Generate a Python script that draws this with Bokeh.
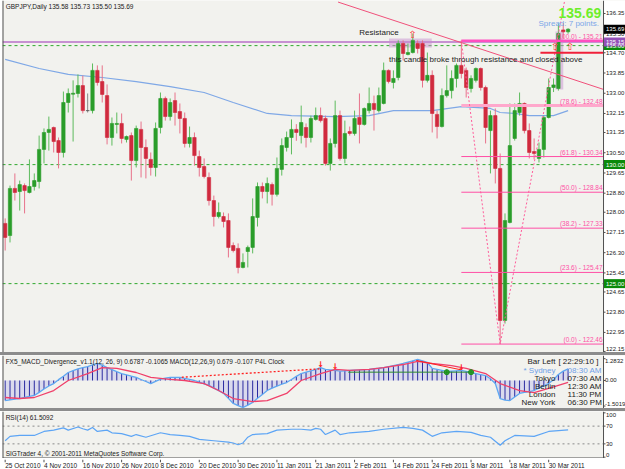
from bokeh.plotting import figure
from bokeh.models import Range1d, Label, Div, ColumnDataSource
from bokeh.layouts import column
from bokeh.embed import file_html
from bokeh.resources import INLINE
from bokeh.core.properties import value

# ---------------- data ----------------
opens = [127.53, 127.02, 129.00, 128.87, 129.12, 128.83, 129.08, 129.29, 130.64, 131.35,
         131.56, 131.01, 130.51, 132.61, 132.96, 132.99, 133.32, 132.27, 132.27, 133.96,
         133.49, 132.90, 131.14, 131.69, 131.73, 131.06, 131.22, 130.17, 131.48, 130.72,
         130.22, 129.88, 131.56, 132.78, 132.02, 132.69, 132.23, 131.94, 130.89, 131.14,
         130.34, 129.92, 129.46, 128.49, 127.82, 127.82, 127.65, 126.60, 126.48, 125.68,
         126.35, 126.52, 127.78, 129.08, 128.87, 129.16, 128.75, 129.80, 130.72, 131.14,
         131.48, 131.22, 131.56, 131.14, 131.90, 132.06, 131.94, 130.05, 130.89, 132.06,
         130.26, 131.39, 131.31, 131.98, 131.69, 132.27, 132.57, 132.27, 132.57, 133.96,
         133.45, 133.66, 135.09, 134.63, 134.71, 135.09, 135.09, 133.54, 133.75, 132.11,
         131.60, 132.90, 133.11, 133.62, 134.17, 133.96, 133.20, 133.54, 134.04, 133.24,
         131.43, 132.06, 129.84, 123.45, 127.57, 131.10, 132.19, 132.57, 131.43, 130.55,
         130.26, 130.64, 131.98, 133.24, 133.20, 135.66, 135.58]
highs = [127.74, 129.12, 129.63, 129.33, 129.21, 130.22, 129.63, 131.22, 131.52, 132.02,
         131.60, 131.14, 133.07, 133.20, 133.54, 133.79, 133.74, 132.99, 134.25, 134.17,
         134.17, 133.37, 131.98, 132.19, 132.15, 131.22, 131.35, 131.64, 131.81, 131.06,
         130.51, 131.77, 133.03, 132.86, 132.78, 133.03, 132.57, 132.19, 131.60, 131.35,
         130.59, 130.26, 129.67, 128.70, 128.41, 127.99, 127.95, 126.73, 126.69, 126.27,
         126.60, 128.58, 129.25, 129.25, 129.46, 129.25, 130.30, 131.10, 131.39, 131.90,
         131.70, 132.48, 131.73, 132.06, 132.40, 132.40, 132.06, 131.10, 132.69, 132.27,
         131.85, 131.60, 132.27, 132.99, 132.40, 133.24, 132.90, 133.24, 134.29, 134.00,
         133.96, 135.22, 135.22, 135.09, 135.51, 135.22, 135.22, 134.71, 133.96, 132.27,
         133.20, 134.17, 133.96, 134.25, 135.21, 134.08, 133.75, 134.08, 134.08, 133.32,
         132.27, 132.36, 130.47, 127.95, 132.57, 132.57, 133.03, 132.61, 131.73, 131.10,
         130.93, 132.06, 133.62, 133.62, 135.93, 135.95, 135.73]
lows = [126.39, 126.73, 128.49, 128.07, 127.95, 128.79, 128.91, 129.00, 130.05, 130.59,
        130.51, 129.84, 130.30, 132.19, 130.97, 132.82, 132.15, 132.19, 132.15, 133.32,
        132.61, 130.85, 130.80, 131.31, 130.89, 130.93, 129.33, 129.88, 129.46, 129.42,
        129.54, 129.50, 131.31, 131.85, 131.85, 131.64, 131.31, 130.72, 130.72, 129.96,
        129.50, 129.42, 128.28, 127.40, 127.74, 127.36, 126.10, 126.31, 125.43, 125.64,
        125.68, 126.27, 127.40, 128.58, 128.37, 128.28, 128.66, 129.54, 130.55, 130.43,
        131.00, 130.89, 130.72, 130.93, 131.85, 131.77, 129.96, 129.75, 130.72, 130.17,
        130.05, 131.22, 131.22, 130.89, 131.64, 132.15, 131.43, 132.19, 132.53, 133.41,
        133.20, 133.54, 134.38, 134.59, 134.67, 134.67, 133.24, 133.45, 131.35, 131.10,
        131.56, 132.82, 132.78, 133.24, 133.62, 132.82, 133.03, 133.45, 133.11, 130.89,
        129.63, 129.21, 122.46, 123.32, 127.53, 131.01, 132.06, 131.31, 130.26, 130.22,
        130.09, 130.30, 131.94, 133.05, 133.11, 135.30, 135.50]
closes = [126.94, 129.00, 128.83, 129.16, 128.91, 129.08, 129.33, 130.64, 131.35, 131.48,
          130.97, 130.51, 132.61, 132.99, 133.00, 133.32, 132.27, 132.27, 133.96, 133.45,
          132.95, 131.14, 131.73, 131.73, 131.10, 131.18, 130.17, 131.52, 130.72, 130.26,
          129.88, 131.52, 132.78, 132.02, 132.61, 132.19, 131.94, 130.89, 131.14, 130.38,
          129.88, 129.50, 128.49, 127.82, 127.99, 127.61, 126.52, 126.39, 125.68, 125.89,
          126.52, 127.82, 129.08, 128.87, 129.21, 128.75, 129.84, 130.80, 131.14, 131.48,
          131.35, 131.77, 131.14, 131.94, 132.06, 131.85, 130.05, 130.89, 132.06, 130.26,
          131.31, 131.31, 131.94, 131.69, 132.36, 132.57, 132.32, 132.90, 133.96, 133.49,
          133.62, 135.09, 134.67, 134.71, 135.22, 134.88, 133.54, 133.75, 132.15, 131.60,
          132.90, 133.11, 133.62, 134.17, 133.83, 133.24, 133.62, 134.04, 133.24, 131.56,
          132.06, 129.84, 123.45, 127.65, 130.80, 132.27, 132.57, 131.43, 130.51, 130.47,
          130.64, 131.98, 133.24, 133.35, 135.51, 135.58, 135.69]

ma_bars = [0, 7, 13, 20, 27, 34, 41, 47, 54, 59, 68, 75, 80, 88, 94, 100, 102, 105, 108, 113, 116]
ma_vals = [134.42, 134.04, 133.79, 133.66, 133.49, 133.28, 133.03, 132.61, 132.15, 132.06,
           132.02, 132.06, 132.27, 132.27, 132.44, 132.36, 132.19, 132.15, 132.06, 132.06, 132.27]

macd = [-1.18, -1.14, -1.10, -1.06, -1.00, -0.94, -0.88, -0.70, -0.50, -0.32,
        -0.18, 0.05, 0.25, 0.47, 0.58, 0.68, 0.76, 0.82, 0.92, 1.00,
        0.90, 0.76, 0.64, 0.52, 0.41, 0.33, 0.25, 0.18, 0.06, -0.06,
        -0.18, -0.05, 0.08, 0.14, 0.18, 0.18, 0.18, 0.12, 0.06, 0.00,
        -0.10, -0.20, -0.29, -0.45, -0.60, -0.76, -1.05, -1.35, -1.48, -1.59,
        -1.45, -1.29, -1.05, -0.82, -0.59, -0.45, -0.33, -0.22, -0.12, 0.06,
        0.24, 0.41, 0.49, 0.57, 0.65, 0.76, 0.65, 0.62, 0.59, 0.55,
        0.57, 0.59, 0.61, 0.62, 0.64, 0.65, 0.69, 0.72, 0.76, 0.82,
        0.88, 0.94, 1.00, 1.08, 1.16, 1.24, 1.15, 1.06, 0.71, 0.65,
        0.59, 0.53, 0.55, 0.57, 0.59, 0.53, 0.47, 0.41, 0.35, 0.29,
        0.10, -0.18, -1.06, -1.15, -1.18, -0.97, -0.76, -0.70, -0.65, -0.59,
        -0.45, -0.32, -0.18, 0.05, 0.35, 0.55, 0.68]
signal_bars = [0, 3, 6, 10, 13, 17, 20, 23, 27, 30, 34, 37, 41, 44, 47, 51, 54, 58, 61, 65,
               68, 71, 75, 78, 82, 85, 88, 92, 95, 99, 102, 106, 109, 112, 116]
signal_vals = [-1.0, -1.06, -1.0, -0.59, 0.0, 0.41, 0.76, 0.71, 0.47, 0.18, 0.06, 0.0, -0.18,
               -0.59, -1.06, -1.24, -1.18, -0.76, 0.0, 0.40, 0.65, 0.59, 0.65, 0.76, 0.94,
               1.12, 1.0, 0.88, 0.71, 0.41, -0.18, -0.59, -0.71, -0.47, -0.11]

rsi_bars = [0, 1, 3, 6, 8, 10, 12, 13, 15, 16, 17, 18, 19, 21, 22, 24, 26, 27, 29, 32, 34, 36,
            38, 40, 43, 46, 47, 48, 49, 50, 51, 54, 56, 59, 61, 63, 64, 65, 66, 68, 69, 71,
            75, 78, 82, 84, 86, 88, 90, 93, 96, 98, 100, 102, 103, 105, 109, 112, 116]
rsi_vals = [37, 47, 49, 49, 58, 61, 66, 61, 68, 64, 61, 67, 58, 61, 55, 53, 47, 51, 45, 55,
            51, 49, 47, 40, 37, 34, 32, 28, 32, 45, 51, 53, 61, 63, 63, 61, 65, 63, 51, 61,
            51, 55, 58, 63, 67, 65, 61, 47, 55, 58, 56, 49, 45, 27, 37, 49, 47, 58, 61.5]

price_ticks = [136.35, 135.50, 134.70, 133.85, 133.00, 132.15, 131.35, 130.50, 129.65, 128.80,
               128.00, 127.15, 126.30, 125.45, 124.65, 123.80, 122.95, 122.15]
macd_ticks = [1.2832, 0.0, -1.5019]
macd_tick_labels = ["1.2832", "0.00", "-1.5019"]
rsi_ticks = [100, 70, 30, 0]
date_ticks = [0, 8, 16, 24, 32, 40, 48, 56, 64, 72, 80, 88, 96, 104, 112]
date_labels = ["25 Oct 2010", "4 Nov 2010", "16 Nov 2010", "26 Nov 2010", "8 Dec 2010",
               "20 Dec 2010", "30 Dec 2010", "11 Jan 2011", "21 Jan 2011", "2 Feb 2011",
               "14 Feb 2011", "24 Feb 2011", "8 Mar 2011", "18 Mar 2011", "30 Mar 2011"]

fib_names = ["(0.0) - 122.46", "(23.6) - 125.47", "(38.2) - 127.33", "(50.0) - 128.84",
             "(61.8) - 130.34", "(78.6) - 132.48", "(100.0) - 135.21"]
fib_prices = [122.46, 125.47, 127.33, 128.84, 130.34, 132.48, 135.21]
fib_start = 94
round_levels = [135.00, 130.00, 125.00]
purple_level = 135.15
red_level = 134.70
trend_bars = [68.6, 123.3]
trend_vals = [136.83, 133.16]
marker_labels = ["135.00", "130.00", "125.00", "135.15", "135.69"]
marker_prices = [135.00, 130.00, 125.00, 135.15, 135.69]
marker_colors = ["#0A8A0A", "#0A8A0A", "#0A8A0A", "#9450B8", "#000000"]

# ---------------- styling ----------------
BG = "#F2F2EE"
FONT = "Liberation Sans"
SCALE_FONT = "6px"
FW = 623                    # frame covers chart + price-scale strip
CH_END = 123.3              # right edge of the chart area (in bar units)
XR = Range1d(-0.55, 127.83)
PX = (XR.end - XR.start) / FW   # bar units per pixel


def base(h, yr):
    f = figure(frame_width=FW, frame_height=h, x_range=XR, y_range=yr,
               toolbar_location=None, output_backend="svg",
               x_axis_location=None, y_axis_location=None,
               min_border_left=2, min_border_right=0, min_border_top=0, min_border_bottom=0,
               background_fill_color=BG, border_fill_color="white",
               outline_line_color=None)
    f.grid.visible = False
    return f


def price_scale(f, yr, ticks, labels, baselines, gap=2.5):
    # white strip of the price scale, its line, ticks and labels
    f.quad(left=[CH_END], right=[XR.end], bottom=[yr.start], top=[yr.end],
           fill_color="white", line_color=None)
    f.line([XR.start, XR.start], [yr.start, yr.end], line_color="#505050", line_width=2)
    f.line([CH_END, CH_END], [yr.start, yr.end], line_color="#505050", line_width=1)
    f.segment(x0=[CH_END] * len(ticks), y0=ticks, x1=[CH_END + 2 * PX] * len(ticks), y1=ticks,
              line_color="#505050", line_width=1)
    f.text(x=[CH_END + gap * PX] * len(ticks), y=ticks, text=labels, text_align="left",
           text_baseline=baselines, text_font=value(FONT),
           text_font_size=SCALE_FONT, text_color="#202020")


# ---------------- main price panel ----------------
YM = Range1d(122.106, 136.896)
p = base(352, YM)

n = len(opens)
bars = list(range(n))
body_col, wick_col = [], []
for o, c in zip(opens, closes):
    if c > o:
        body_col.append("#2A9D2A"); wick_col.append("#5DBB5D")
    elif c < o:
        body_col.append("#D02A3E"); wick_col.append("#E8728A")
    else:
        body_col.append("#555555"); wick_col.append("#888888")
src = ColumnDataSource(dict(x=bars, h=highs, l=lows,
                            top=[max(a, b) for a, b in zip(opens, closes)],
                            bot=[min(a, b) for a, b in zip(opens, closes)],
                            bc=body_col, wc=wick_col))

for lv in round_levels:
    p.line([XR.start, CH_END], [lv, lv], line_color="#2FA82F", line_dash="3 3", line_width=1)
p.line([XR.start, CH_END], [purple_level, purple_level], line_color="#B870C8", line_width=1.5)

p.quad(left=[79.1, 113.4], right=[87.9, 115.0], bottom=[134.92, 133.16], top=[135.30, 135.59],
       fill_color="#C890D0", fill_alpha=0.5, line_color=None)

p.line(ma_bars, ma_vals, line_color="#7FA8E6", line_width=1.2)

p.segment("x", "h", "x", "l", source=src, line_color="wc", line_width=1)
p.vbar("x", 0.7, "top", "bot", source=src, fill_color="bc", line_color="bc", line_width=0.6)

fw = [1, 1, 1, 1, 1, 3, 2.5]
fc = ["#FF4FA6", "#FF4FA6", "#FF4FA6", "#FF4FA6", "#FF4FA6", "#FFA8CC", "#FF4FC0"]
p.segment(x0=[fib_start] * 7, y0=fib_prices, x1=[CH_END] * 7, y1=fib_prices,
          line_color=fc, line_width=fw)
p.text(x=[CH_END - 0.2] * 7, y=fib_prices, text=fib_names, text_align="right",
       text_baseline="bottom", y_offset=-1, text_font=value(FONT),
       text_font_size="6.5px", text_color="#FF4FA6")
p.line([94, 102, 115.3], [135.21, 122.46, 136.9],
       line_color="#FF5C9A", line_dash="2 2", line_width=1)

p.line(trend_bars, trend_vals, line_color="#F0507A", line_width=1)
p.line([110.3, CH_END], [red_level, red_level], line_color="#F0203A", line_width=2)

p.text(x=[72.96], y=[135.55], text=["Resistance"], text_align="left", text_baseline="middle",
       text_font=value(FONT), text_font_size="8px", text_color="#222222")
p.text(x=[79.1], y=[134.40], text=["this candle broke through resistance and closed above"],
       text_align="left", text_baseline="middle", text_font=value(FONT),
       text_font_size="8px", text_color="#222222")
p.text(x=[83.9, 113.3, 116.4], y=[135.45, 134.96, 134.96], text=["\u21e7"] * 3,
       text_align="center", text_baseline="middle", text_font=value("DejaVu Sans"),
       text_font_size="10px", text_color="#FF3030")
p.text(x=[114.0], y=[136.35], text=["135.69"], text_align="left", text_baseline="middle",
       text_font=value(FONT), text_font_size="14px", text_font_style="bold",
       text_color="#6EEE2A")
p.text(x=[109.9], y=[135.93], text=["Spread: 7 points."], text_align="left",
       text_baseline="middle", text_font=value(FONT), text_font_size="8px",
       text_color="#7BA6E8")
p.add_layout(Label(x=0.1, y=136.64, text="GBPJPY,Daily  135.58 135.73 135.50 135.69",
                   text_font=FONT, text_font_size="6.5px", text_color="#202020",
                   text_baseline="middle"))

price_scale(p, YM, price_ticks, ["%.2f" % t for t in price_ticks],
            ["middle"] * (len(price_ticks) - 1) + ["bottom"])
p.rect(x=[CH_END + 11.5 * PX] * 5, y=marker_prices, width=22, height=9,
       width_units="screen", height_units="screen", fill_color=marker_colors, line_color=None)
p.text(x=[CH_END + 2.5 * PX] * 5, y=marker_prices, text=marker_labels, text_align="left",
       text_baseline="middle", text_font=value(FONT), text_font_size=SCALE_FONT,
       text_color="white")

# ---------------- MACD panel ----------------
YD = Range1d(-1.647, 1.47)
m = base(53, YD)
m.varea(x=bars, y1=[0] * n, y2=macd, fill_color="#C9C9EC", fill_alpha=0.6)
m.segment(x0=bars, y0=[0] * n, x1=bars, y1=macd, line_color="#2B2BA0", line_width=1)
m.line(bars, macd, line_color="#5EA8F2", line_width=1.3)
m.line(signal_bars, signal_vals, line_color="#F0406A", line_width=1.3)
m.line([36.4, 65.2], [0.19, 0.69], line_color="#FF2020", line_dash="2 2", line_width=1.3)
m.line([70.7, 96.5], [0.49, 0.49], line_color="#2E8B2E", line_width=1)
m.line([84.7, 93.9], [1.18, 0.63], line_color="#FF2020", line_width=1)
m.text(x=[65, 68, 94], y=[0.95, 0.80, 0.75], text=["\u2193"] * 3, text_align="center",
       text_baseline="middle", text_font=value("DejaVu Sans"), text_font_size="8px",
       text_color="#FF1010", text_font_style="bold")
m.scatter([91, 96], [0.49, 0.49], marker="circle_cross", size=5, line_color="#1E8C1E",
          fill_color="#33AA33")
m.add_layout(Label(x=0.1, y=1.12,
                   text="FX5_MACD_Divergence_v1.1(12, 26, 9) 0.6787 -0.1065  MACD(12,26,9) 0.679 -0.107  P4L Clock",
                   text_font=FONT, text_font_size="6.5px", text_color="#202020",
                   text_baseline="middle"))
clock_names = ["Bar Left", "* Sydney", "Tokyo", "Berlin", "London", "New York"]
clock_times = ["[ 22:29:10 ]", "08:30  AM", "07:30  AM", "12:30  AM", "11:30  PM", "06:30  PM"]
clock_y = [1.118, 0.588, 0.118, -0.353, -0.824, -1.294]
clock_cols = ["#222222", "#6FA0E8", "#222222", "#222222", "#222222", "#222222"]
m.text(x=[113.4] * 6, y=clock_y, text=clock_names, text_align="right", text_baseline="middle",
       text_font=value(FONT), text_font_size="8px", text_color=clock_cols)
m.text(x=[114.0] + [115.9] * 5, y=clock_y, text=clock_times, text_align="left",
       text_baseline="middle", text_font=value(FONT), text_font_size="8px",
       text_color=clock_cols)
price_scale(m, YD, macd_ticks, macd_tick_labels, ["top", "middle", "bottom"], gap=1.5)

# ---------------- RSI panel ----------------
YR = Range1d(-3, 103)
r = base(47, YR)
for lv in [70, 30]:
    r.line([XR.start, CH_END], [lv, lv], line_color="#8A8A8A", line_dash="2 3", line_width=1)
r.line(rsi_bars, rsi_vals, line_color="#5DA5F5", line_width=1.2)
r.add_layout(Label(x=0.1, y=89.5, text="RSI(14) 61.5092", text_font=FONT,
                   text_font_size="6.5px", text_color="#202020", text_baseline="middle"))
r.add_layout(Label(x=0.1, y=8.3, text="SIGTrader 4, \u00a9 2001-2011 MetaQuotes Software Corp.",
                   text_font=FONT, text_font_size="6.5px", text_color="#202020",
                   text_baseline="middle"))
price_scale(r, YR, rsi_ticks, [str(t) for t in rsi_ticks],
            ["top", "middle", "middle", "bottom"])
r.line([XR.start, CH_END], [YR.start, YR.start], line_color="#505050", line_width=2)

# ---------------- date labels ----------------
d = figure(frame_width=FW, frame_height=11, x_range=XR, y_range=Range1d(0, 1),
           toolbar_location=None, output_backend="svg", x_axis_location=None,
           y_axis_location=None, min_border_left=2, min_border_right=0, min_border_top=0,
           min_border_bottom=0, background_fill_color="white", border_fill_color="white",
           outline_line_color=None)
d.grid.visible = False
d.segment(x0=date_ticks, y0=[1] * len(date_ticks), x1=date_ticks, y1=[0.75] * len(date_ticks),
          line_color="#505050", line_width=1)
d.text(x=date_ticks, y=[0.45] * len(date_ticks), text=date_labels, text_align="left",
       text_baseline="middle", text_font=value(FONT), text_font_size="6.5px",
       text_color="#202020")


def sep():
    return Div(width=625, height=3, margin=(0, 0, 0, 0),
               styles={"background-color": "#8C8C8C"})


layout = column(p, sep(), m, sep(), r, d, spacing=0)
open("out.html", "w").write(file_html(layout, INLINE))
